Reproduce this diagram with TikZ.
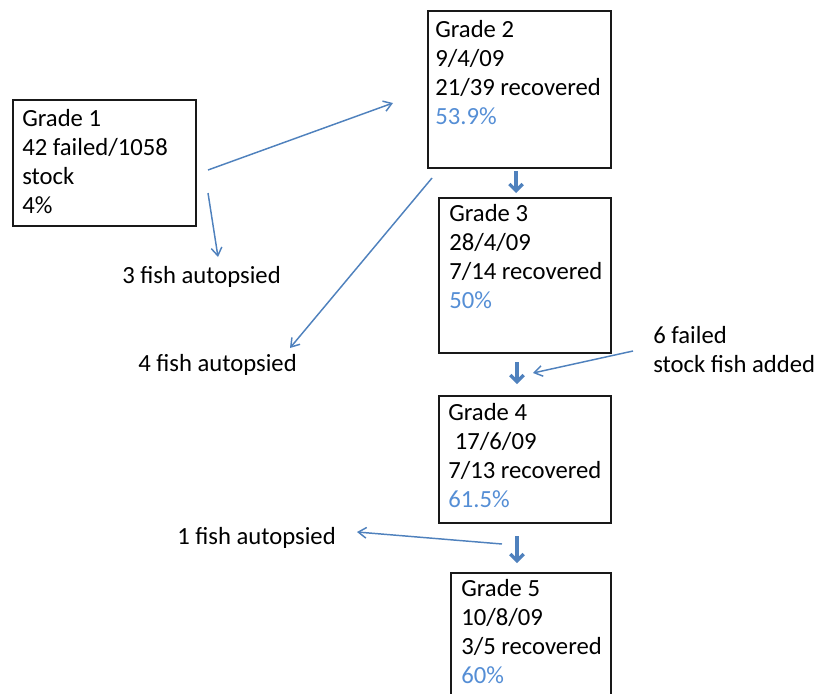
\documentclass[tikz,border=0pt]{standalone}
\usepackage{fontspec}
\setmainfont{Carlito}
\usetikzlibrary{arrows.meta}
\definecolor{arrowblue}{HTML}{4F81BD}
\definecolor{pct}{HTML}{558ED5}
\tikzset{
  box/.style={draw=black!90, line width=1.5pt, inner sep=0pt, anchor=north west},
  txt/.style={anchor=base west, align=left, inner sep=0pt, font=\fontsize{18.5}{21.75}\selectfont, text=black},
  thin arrow/.style={draw=arrowblue, line width=1.1pt, -{Straight Barb[length=6pt,width=8pt]}},
  thick arrow/.style={draw=arrowblue, line width=2.4pt, -{Straight Barb[length=5pt,width=10pt]}}
}
\begin{document}
\begin{tikzpicture}[x=0.75pt,y=-0.75pt]
\useasboundingbox (0,0) rectangle (820,693);
\begin{scope}
\clip (0,0) rectangle (820,693);
% boxes
\node[box, minimum width=137.25pt, minimum height=94.5pt] (g1) at (12,99) {};
\node[box, minimum width=137.25pt, minimum height=117.75pt] (g2) at (427,10) {};
\node[box, minimum width=129pt, minimum height=116.25pt] (g3) at (438,197) {};
\node[box, minimum width=129pt, minimum height=95.25pt] (g4) at (438,395) {};
\node[box, minimum width=120pt, minimum height=96pt] (g5) at (450,572) {};
\end{scope}
% box texts (anchored at the baseline of their last line)
\node[txt] (g1t) at (22,213) {Grade 1\\42 failed/1058\\stock\\4\%};
\node[txt] (g2t) at (435,124) {Grade 2\\9/4/09\\21/39 recovered\\{\color{pct}53.9\%}};
\node[txt] (g3t) at (449,308) {Grade 3\\28/4/09\\7/14 recovered\\{\color{pct}50\%}};
\node[txt] (g4t) at (448,507) {Grade 4\\\hspace*{5pt}17/6/09\\7/13 recovered\\{\color{pct}61.5\%}};
\node[txt] (g5t) at (461,683) {Grade 5\\10/8/09\\3/5 recovered\\{\color{pct}60\%}};
% side labels
\node[txt] (l3) at (122,283) {3 fish autopsied};
\node[txt] (l4) at (138,371) {4 fish autopsied};
\node[txt] (l6) at (653,372) {6 failed\\stock fish added};
\node[txt] (l1) at (177,544) {1 fish autopsied};
% connector end points
\coordinate (a1s) at (208,170);
\coordinate (a1e) at (393,103);
\coordinate (a2s) at (208,193);
\coordinate (a2e) at (218,257);
\coordinate (a3s) at (432,178);
\coordinate (a3e) at (290,348);
\coordinate (a4s) at (516,171);
\coordinate (a4e) at (516,193);
\coordinate (a5s) at (517,362);
\coordinate (a5e) at (517,384);
\coordinate (a6s) at (633,351);
\coordinate (a6e) at (533,373);
\coordinate (a7s) at (517,536);
\coordinate (a7e) at (517,563);
\coordinate (a8s) at (502,544);
\coordinate (a8e) at (357,532);
% connectors
\draw[thin arrow] (a1s) -- (a1e);
\draw[thin arrow] (a2s) -- (a2e);
\draw[thin arrow] (a3s) -- (a3e);
\draw[thick arrow] (a4s) -- (a4e);
\draw[thick arrow] (a5s) -- (a5e);
\draw[thin arrow] (a6s) -- (a6e);
\draw[thick arrow] (a7s) -- (a7e);
\draw[thin arrow] (a8s) -- (a8e);
\end{tikzpicture}
\end{document}
